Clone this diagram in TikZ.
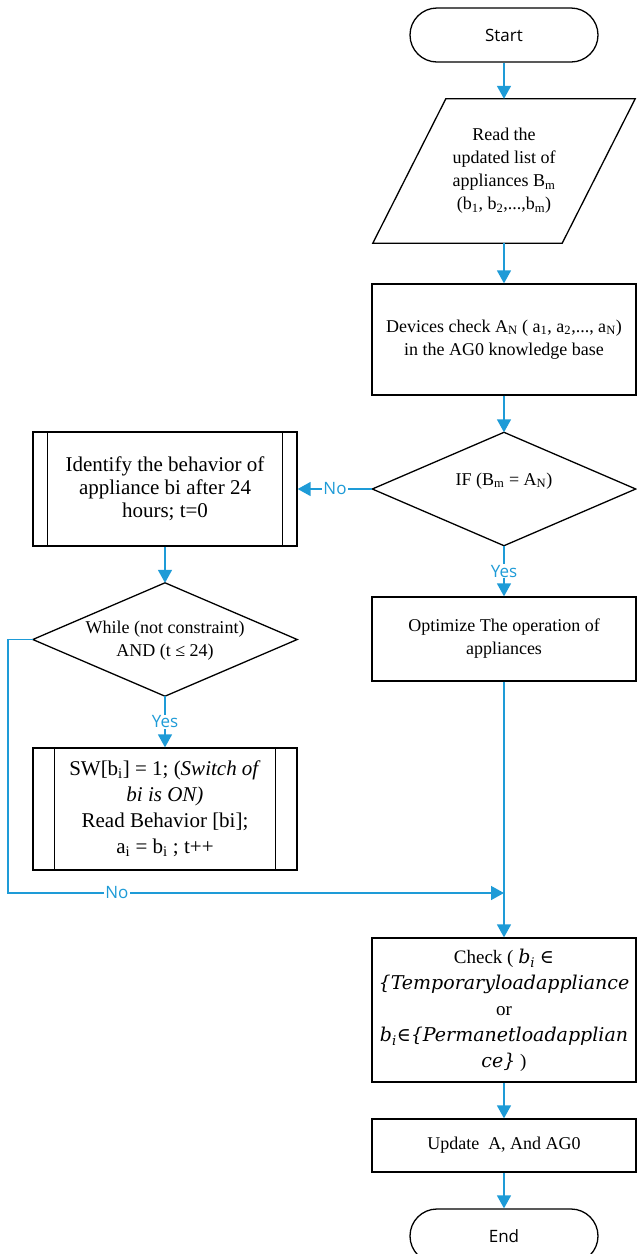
\documentclass[tikz,border=0pt]{standalone}
\usepackage{fontspec}
\setmainfont{Liberation Serif}
\newfontfamily\uifont{Open Sans}
\newfontfamily\mitfont{DejaVu Serif}
\usetikzlibrary{arrows.meta,calc}
\definecolor{flow}{RGB}{30,155,215}
\newcommand\lo[1]{\textsubscript{#1}}
\newcommand\mi[1]{{\mitfont\itshape #1}}

\begin{document}
\begin{tikzpicture}[x=1pt,y=-1pt,
  outline/.style={draw=black, line width=1.3pt},
  box/.style={outline, rectangle, minimum width=264pt, inner sep=0pt},
  frame/.style={inner sep=0pt},
  term/.style={outline, rectangle, rounded corners=27pt, minimum width=188pt,
    minimum height=54pt, font=\uifont\fontsize{17}{20}\selectfont},
  txt/.style={align=center, font=\fontsize{18}{23}\selectfont},
  bigtxt/.style={align=center, font=\fontsize{21}{23}\selectfont},
  flowline/.style={draw=flow, line width=1.5pt},
  arrow/.style={flowline, -{Triangle[length=13pt,width=14pt]}},
  tag/.style={text=flow, font=\uifont\fontsize{17}{18}\selectfont, fill=white, inner sep=1pt},
]
\useasboundingbox (0,0) rectangle (637,1254);

% right column
\node[term] (start) at (504,35) {Start};

\node[txt, frame, minimum width=189pt, minimum height=144pt] (read) at (504,171)
  {Read the\\updated list of\\appliances B\lo{m}\\(b\lo{1}, b\lo{2},...,b\lo{m})};
\draw[outline] ($(read.north west)+(36.5,0)$) -- ($(read.north east)+(36.5,0)$)
  -- ($(read.south east)-(36.5,0)$) -- ($(read.south west)-(36.5,0)$) -- cycle;

\node[box, txt, minimum height=111pt] (dev) at (504,339.5)
  {Devices check A\lo{N} ( a\lo{1}, a\lo{2},..., a\lo{N})\\in the AG0 knowledge base};

\node[frame, minimum width=263pt, minimum height=113pt] (ifd) at (504,489) {};
\draw[outline] (ifd.north) -- (ifd.east) -- (ifd.south) -- (ifd.west) -- cycle;
\node[txt] (ifdtext) at (504,481) {IF (B\lo{m} = A\lo{N})};

\node[box, txt, minimum height=84pt] (opt) at (504,639)
  {Optimize The operation of\\appliances};

\node[box, align=center, font=\fontsize{19}{26}\selectfont, minimum height=144pt] (check) at (504,1010)
  {Check ( \mi{b}\lo{\mi{i}} {\mitfont ∈}\\
   \mi{\{Temporaryloadappliance}\\
   or\\
   \mi{b}\lo{\mi{i}}{\mitfont ∈}\mi{\{Permanetloadapplian}\\
   \mi{ce\}} )};

\node[box, txt, minimum height=53pt] (upd) at (504,1145.5) {Update\ \ A, And AG0};

\node[term] (end) at (504,1236) {End};

% left column
\node[box, bigtxt, minimum height=114pt] (ident) at (165,489)
  {Identify the behavior of\\appliance bi after 24\\hours; t=0};
\draw[outline] ($(ident.north west)+(15,0)$) -- ($(ident.south west)+(15,0)$);
\draw[outline] ($(ident.north east)-(15,0)$) -- ($(ident.south east)-(15,0)$);

\node[frame, minimum width=264pt, minimum height=113pt] (while) at (165,639.5) {};
\draw[outline] (while.north) -- (while.east) -- (while.south) -- (while.west) -- cycle;
\node[txt] (whiletext) at (165,641) {While (not constraint)\\AND\ (t ≤ 24)};

\node[box, align=center, font=\fontsize{21}{26}\selectfont, minimum height=122pt] (sw) at (165,809)
  {SW[b\lo{i}] = 1; (\textit{Switch of}\\\textit{bi is ON)}\\Read Behavior [bi];\\a\lo{i} = b\lo{i} ; t++};
\draw[outline] ($(sw.north west)+(22,0)$) -- ($(sw.south west)+(22,0)$);
\draw[outline] ($(sw.north east)-(22,0)$) -- ($(sw.south east)-(22,0)$);

% connectors
\coordinate (join) at (504,893);
\draw[arrow] (start) -- (read);
\draw[arrow] (read) -- (dev);
\draw[arrow] (dev) -- (ifd);
\draw[arrow] (ifd) -- node[tag] {Yes} (opt);
\draw[arrow] (ifd.west) -- node[tag] {No} (ident.east);
\draw[arrow] (ident) -- (while);
\draw[arrow] (while) -- node[tag] {Yes} (sw);
\draw[arrow] (while.west) -- ++(-25,0) |- node[tag, pos=0.61] {No} (join);
\draw[arrow] (opt) -- (check);
\draw[arrow] (check) -- (upd);
\draw[arrow] (upd) -- (end);
\end{tikzpicture}
\end{document}
